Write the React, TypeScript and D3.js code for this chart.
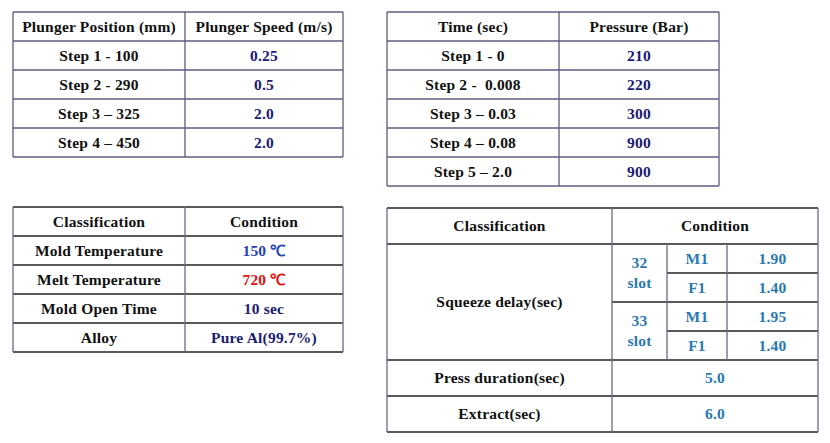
import React, { useEffect, useRef } from 'react';
import * as d3 from 'd3';

// table data
const plungerHeader = ["Plunger Position (mm)", "Plunger Speed (m/s)"];
const plungerSteps = ["Step 1 - 100", "Step 2 - 290", "Step 3 \u2013 325", "Step 4 \u2013 450"];
const plungerSpeeds = ["0.25", "0.5", "2.0", "2.0"];

const pressureHeader = ["Time (sec)", "Pressure (Bar)"];
const pressureTimes = ["Step 1 - 0", "Step 2 -  0.008", "Step 3 \u2013 0.03", "Step 4 \u2013 0.08", "Step 5 \u2013 2.0"];
const pressureValues = ["210", "220", "300", "900", "900"];

const conditionHeader = ["Classification", "Condition"];
const conditionLabels = ["Mold Temperature", "Melt Temperature", "Mold Open Time", "Alloy"];
const conditionValues = ["150 \u2103", "720 \u2103", "10 sec", "Pure Al(99.7%)"];

const squeezeLabel = "Squeeze delay(sec)";
const slotNames = [["32", "slot"], ["33", "slot"]];
const partNames = ["M1", "F1"];
const delayValues = [["1.90", "1.40"], ["1.95", "1.40"]];
const extraLabels = ["Press duration(sec)", "Extract(sec)"];
const extraValues = ["5.0", "6.0"];

const FONT = '"Liberation Serif", "Times New Roman", serif';
const NAVY = "#1c1c72";
const STEEL = "#2a78b2";
const conditionColors = ["#2342b4", "#e3120e", NAVY, NAVY];

const App = () => {
  const svgRef = useRef<SVGSVGElement>(null);

  useEffect(() => {
    const svg = d3.select(svgRef.current);
    svg.selectAll("*").remove();

    const hLine = (x0, x1, y, color) =>
      svg.append("line").attr("x1", x0).attr("x2", x1).attr("y1", y).attr("y2", y)
        .attr("stroke", color).attr("stroke-width", 1.3);
    const vLine = (x, y0, y1, color) =>
      svg.append("line").attr("x1", x).attr("x2", x).attr("y1", y0).attr("y2", y1)
        .attr("stroke", color).attr("stroke-width", 1.3);
    const text = (x, y, s, color = "#111") =>
      svg.append("text").attr("x", x).attr("y", y).attr("dy", "0.35em")
        .attr("text-anchor", "middle")
        .style("font-family", FONT)
        .style("font-weight", "bold").style("font-size", "15.5px")
        .style("letter-spacing", "0.2px")
        .style("white-space", "pre").attr("fill", color).text(s);

    // simple two-column table
    const simpleTable = (xs, y, header, left, right, colors, hColor, vColor) => {
      const n = left.length + 1;
      const mid = (i) => (y(i) + y(i + 1)) / 2;
      d3.range(n + 1).forEach(i => hLine(xs[0], xs[2], y(i), hColor));
      xs.forEach(x => vLine(x, y(0), y(n), vColor));
      text((xs[0] + xs[1]) / 2, mid(0), header[0]);
      text((xs[1] + xs[2]) / 2, mid(0), header[1]);
      left.forEach((s, i) => text((xs[0] + xs[1]) / 2, mid(i + 1), s));
      right.forEach((s, i) => text((xs[1] + xs[2]) / 2, mid(i + 1), s, colors[i]));
    };

    const y1 = d3.scaleLinear().domain([0, 5]).range([12, 157]);
    simpleTable([13, 185, 343], y1, plungerHeader, plungerSteps, plungerSpeeds,
      plungerSpeeds.map(() => NAVY), "#5c5c7c", "#5c5c7c");

    const y2 = d3.scaleLinear().domain([0, 6]).range([12, 186]);
    simpleTable([387, 559, 719], y2, pressureHeader, pressureTimes, pressureValues,
      pressureValues.map(() => NAVY), "#5c5c7c", "#5c5c7c");

    const y3 = d3.scaleLinear().domain([0, 5]).range([207, 352]);
    simpleTable([13, 185, 343], y3, conditionHeader, conditionLabels, conditionValues,
      conditionColors, "#222", "#6a6a82");

    // squeeze table
    const xs = [387, 612, 667, 727, 818];
    const ys = [208, 244, 273, 302, 331, 360, 396, 432];
    const dark = "#222", grey = "#6a6a82";
    hLine(xs[0], xs[4], ys[0], dark);
    hLine(xs[0], xs[4], ys[1], dark);
    hLine(xs[2], xs[4], ys[2], dark);
    hLine(xs[1], xs[4], ys[3], dark);
    hLine(xs[2], xs[4], ys[4], dark);
    hLine(xs[0], xs[4], ys[5], dark);
    hLine(xs[0], xs[4], ys[6], dark);
    hLine(xs[0], xs[4], ys[7], dark);
    vLine(xs[0], ys[0], ys[7], grey);
    vLine(xs[1], ys[0], ys[7], grey);
    vLine(xs[2], ys[1], ys[5], grey);
    vLine(xs[3], ys[1], ys[5], grey);
    vLine(xs[4], ys[0], ys[7], grey);

    const cx = (a, b) => (xs[a] + xs[b]) / 2;
    text(cx(0, 1), (ys[0] + ys[1]) / 2, conditionHeader[0]);
    text(cx(1, 4), (ys[0] + ys[1]) / 2, conditionHeader[1]);
    text(cx(0, 1), (ys[1] + ys[5]) / 2, squeezeLabel);
    slotNames.forEach((lines, s) => {
      const top = ys[1 + s * 2], bot = ys[3 + s * 2];
      const c = (top + bot) / 2;
      text(cx(1, 2), c - 10, lines[0], STEEL);
      text(cx(1, 2), c + 10, lines[1], STEEL);
      partNames.forEach((p, k) => {
        const r = 1 + s * 2 + k;
        text(cx(2, 3), (ys[r] + ys[r + 1]) / 2, p, STEEL);
        text(cx(3, 4), (ys[r] + ys[r + 1]) / 2, delayValues[s][k], STEEL);
      });
    });
    extraLabels.forEach((s, i) => {
      const c = (ys[5 + i] + ys[6 + i]) / 2;
      text(cx(0, 1), c, s);
      text(cx(1, 4), c, extraValues[i], STEEL);
    });
  }, []);

  return (
    <svg ref={svgRef} width={830} height={443}
      style={{ position: "absolute", left: 0, top: 0, background: "#fff" }} />
  );
};

export default App;
